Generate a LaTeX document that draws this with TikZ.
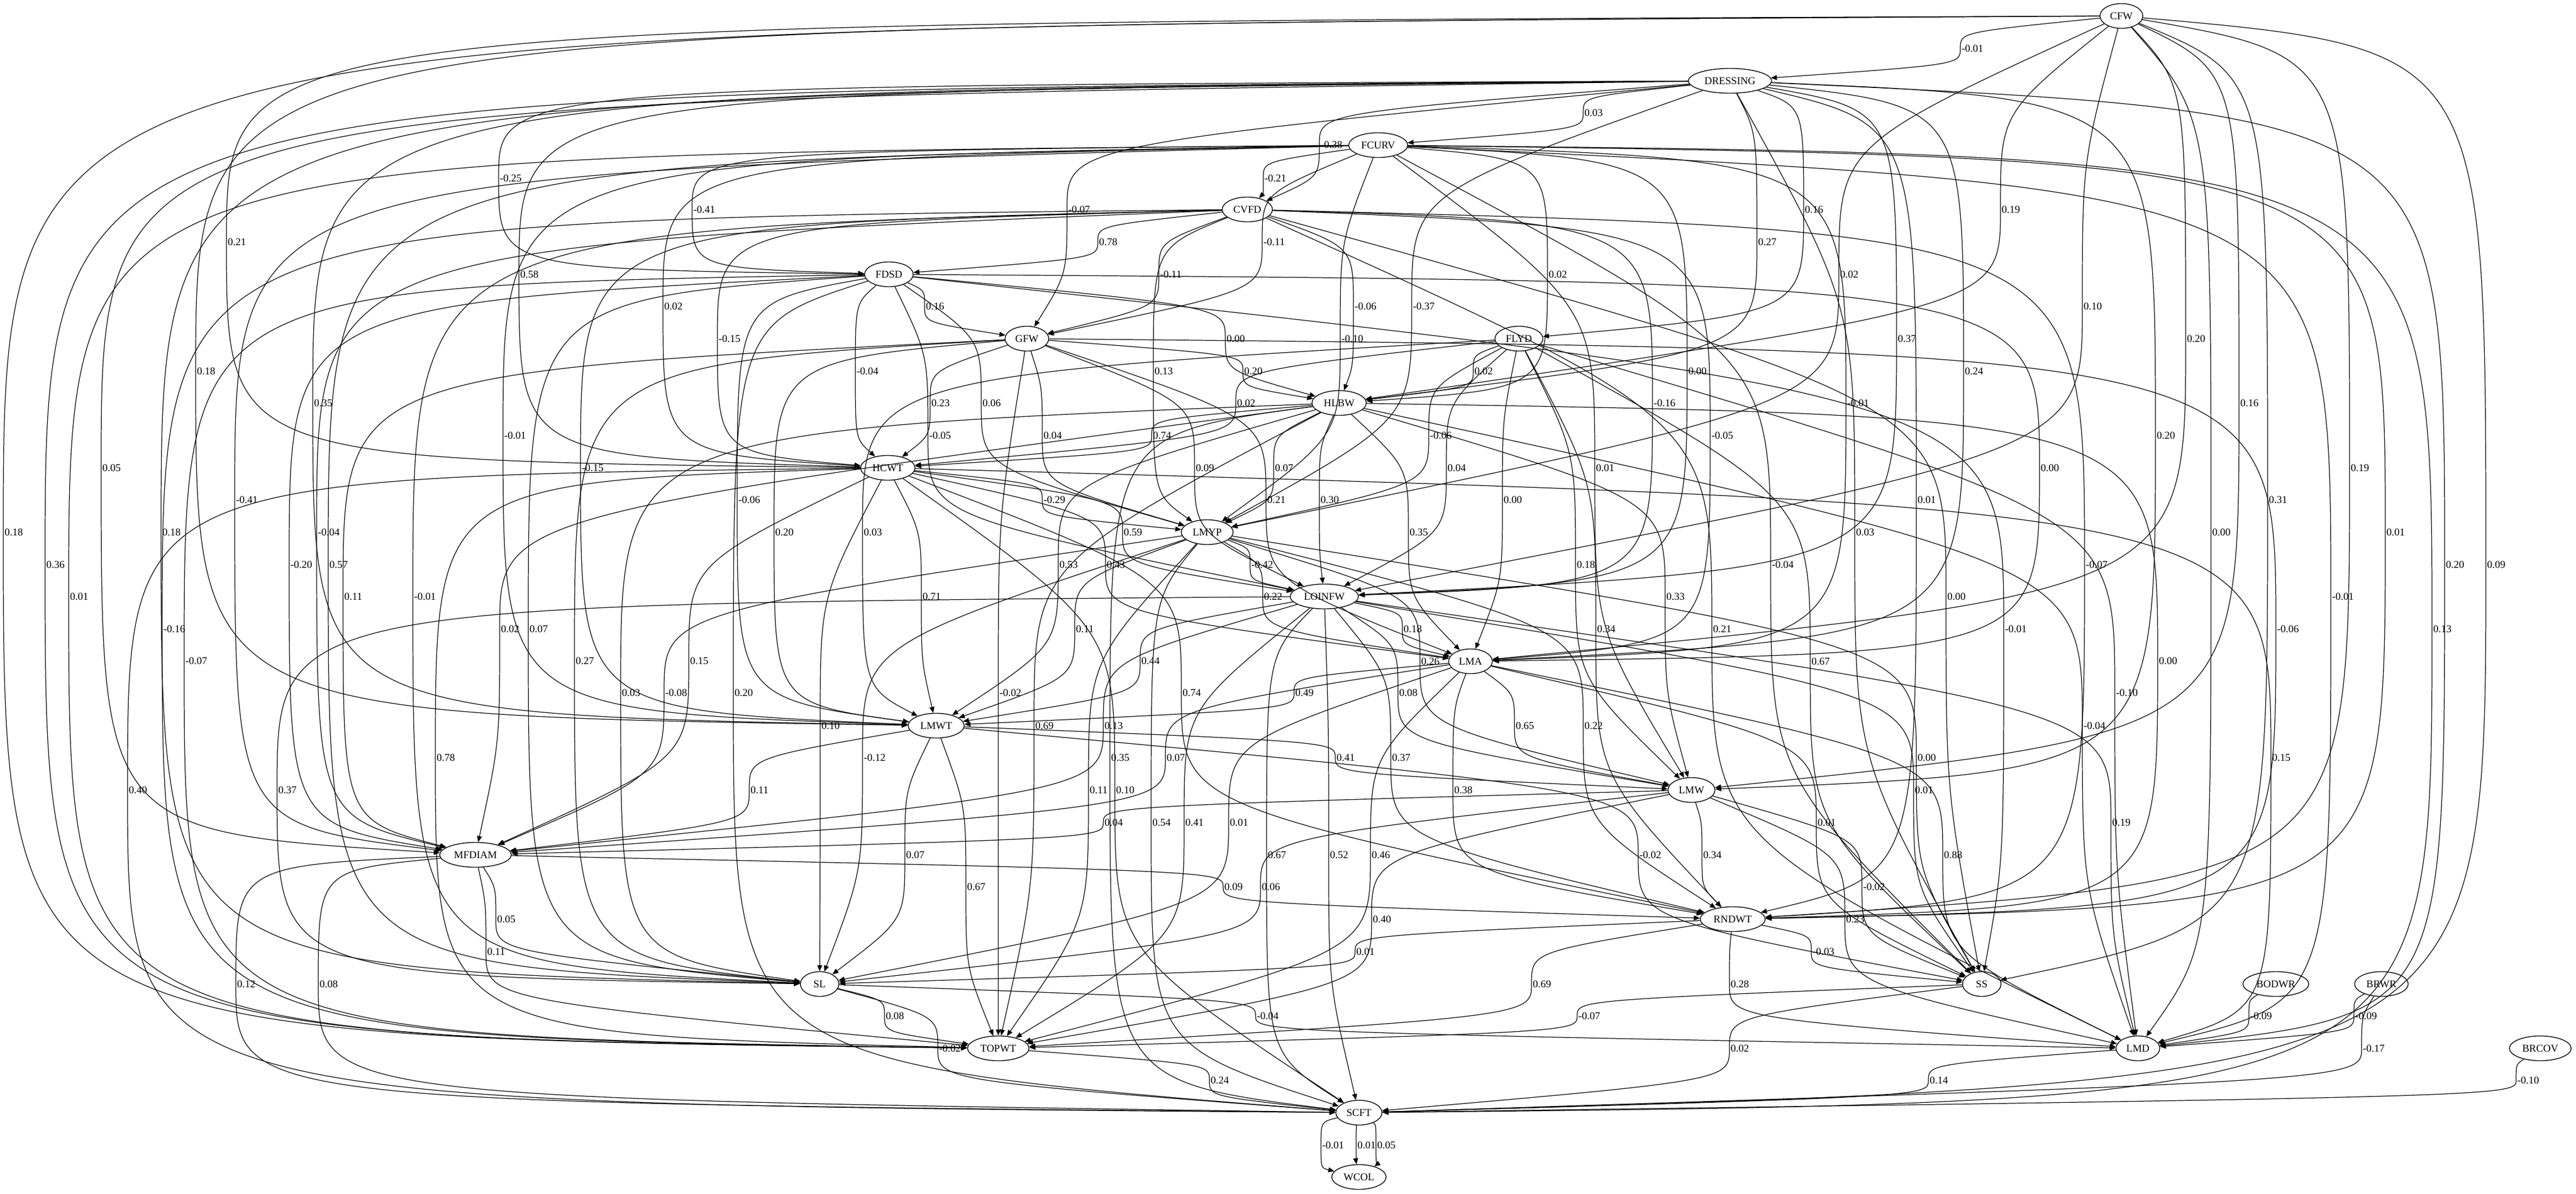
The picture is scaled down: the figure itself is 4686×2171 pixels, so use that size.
\documentclass[tikz,border=0pt]{standalone}
\usepackage{fontspec}
\setmainfont{Liberation Serif}
\usetikzlibrary{calc,shapes.geometric,arrows.meta}
\begin{document}
\begin{tikzpicture}[x=0.01cm,y=-0.01cm,
  var/.style={ellipse,draw,line width=0.4pt,inner xsep=0.07cm,inner ysep=0pt,minimum height=0.45cm,minimum width=0.7cm,font=\fontsize{5.4}{6}\selectfont},
  link/.style={line width=0.35pt,-{Triangle[length=1.1mm,width=0.9mm]}},
  lab/.style={anchor=west,inner sep=0.5pt,font=\fontsize{5.4}{6}\selectfont}]
\useasboundingbox (0,0) rectangle (4686,2171);
\node[var] (CFW) at (3859,29) {CFW};
\node[var] (DRESSING) at (3147,147) {DRESSING};
\node[var] (FCURV) at (2507,264) {FCURV};
\node[var] (CVFD) at (2269,381) {CVFD};
\node[var] (FDSD) at (1617,499) {FDSD};
\node[var] (GFW) at (1868,616) {GFW};
\node[var] (FLYD) at (2763,616) {FLYD};
\node[var] (HLBW) at (2436,733) {HLBW};
\node[var] (HCWT) at (1615,851) {HCWT};
\node[var] (LMYP) at (2196,968) {LMYP};
\node[var] (LOINFW) at (2409,1085) {LOINFW};
\node[var] (LMA) at (2675,1203) {LMA};
\node[var] (LMWT) at (1703,1320) {LMWT};
\node[var] (LMW) at (3077,1437) {LMW};
\node[var] (MFDIAM) at (865,1555) {MFDIAM};
\node[var] (RNDWT) at (3152,1672) {RNDWT};
\node[var] (SL) at (1491,1790) {SL};
\node[var] (SS) at (3605,1790) {SS};
\node[var] (BODWR) at (4140,1790) {BODWR};
\node[var] (BRWR) at (4332,1790) {BRWR};
\node[var] (TOPWT) at (1816,1907) {TOPWT};
\node[var] (LMD) at (3889,1907) {LMD};
\node[var] (BRCOV) at (4621,1907) {BRCOV};
\node[var] (SCFT) at (2472,2024) {SCFT};
\node[var] (WCOL) at (2472,2141) {WCOL};
\foreach \sr/\tg/\lx/\ly/\w in {
CFW/DRESSING/3585/88/-0.01, DRESSING/FCURV/2899/205/0.03, DRESSING/CVFD/2419/263/-0.38,
FCURV/CVFD/2317/324/-0.21, DRESSING/FDSD/926/324/-0.25, DRESSING/GFW/1960/381/-0.07,
FCURV/FDSD/1278/381/-0.41, DRESSING/FLYD/3300/381/0.16, CFW/HLBW/3658/381/0.19,
CVFD/FDSD/2016/440/0.78, FCURV/GFW/2315/440/-0.11, DRESSING/HLBW/3215/440/0.27,
CFW/HCWT/431/440/0.21, DRESSING/HCWT/963/499/0.58, CVFD/GFW/2127/499/-0.11,
FCURV/HLBW/2834/499/0.02, CFW/LMYP/3364/499/0.02, FCURV/HCWT/1225/557/0.02,
FDSD/GFW/1701/557/0.16, CVFD/HLBW/2481/557/-0.06, DRESSING/LMYP/2587/557/-0.37,
CFW/LOINFW/3807/557/0.10, CVFD/HCWT/1324/616/-0.15, FDSD/HLBW/2248/616/0.00,
FCURV/LMYP/2457/616/-0.10, DRESSING/LOINFW/3469/616/0.37, CFW/LMA/3995/616/0.20,
CFW/LMWT/375/675/0.18, FDSD/HCWT/1575/675/-0.04, CVFD/LMYP/2117/675/0.13,
GFW/HLBW/2280/675/0.20, FLYD/HLBW/2699/675/0.02, FCURV/LOINFW/3088/675/0.00,
DRESSING/LMA/3591/675/0.24, DRESSING/LMWT/588/733/0.35, GFW/HCWT/1711/733/0.23,
FDSD/LMYP/1804/733/0.06, FLYD/HCWT/2267/733/0.02, CVFD/LOINFW/3025/733/-0.16,
FCURV/LMA/3377/733/-0.01, CFW/LMW/4092/733/0.16, FCURV/LMWT/934/792/-0.01,
FDSD/LOINFW/1707/792/-0.05, GFW/LMYP/1915/792/0.04, HLBW/HCWT/2114/792/0.74,
FLYD/LMYP/2618/792/-0.06, CVFD/LMA/3130/792/-0.05, DRESSING/LMW/3940/792/0.20,
DRESSING/MFDIAM/203/851/0.05, CVFD/LMWT/1075/851/-0.15, GFW/LOINFW/2192/851/0.09,
HLBW/LMYP/2336/851/0.07, FLYD/LOINFW/2650/851/0.04, FCURV/LMW/2920/851/0.01,
FDSD/LMA/3729/851/0.00, CFW/RNDWT/4293/851/0.19, FCURV/MFDIAM/446/909/-0.41,
FDSD/LMWT/1360/909/-0.06, HCWT/LMYP/1915/909/-0.29, GFW/LMA/2322/909/0.21,
HLBW/LOINFW/2419/909/0.30, FLYD/LMA/2752/909/0.00, DRESSING/RNDWT/3505/909/0.01,
CFW/SS/4144/909/0.31, CFW/TOPWT/25/968/0.18, DRESSING/SL/312/968/0.18,
CVFD/MFDIAM/595/968/-0.04, GFW/LMWT/1427/968/0.20, FLYD/LMWT/1588/968/0.03,
HCWT/LOINFW/2061/968/0.59, HLBW/LMA/2581/968/0.35, DRESSING/SS/3393/968/0.03,
CFW/LMD/4041/968/0.00, FCURV/RNDWT/4358/968/0.01, DRESSING/TOPWT/101/1027/0.36,
FDSD/MFDIAM/545/1027/-0.20, FCURV/SL/616/1027/0.57, HLBW/LMWT/1944/1027/0.53,
HCWT/LMA/2030/1027/0.43, LMYP/LOINFW/2293/1027/-0.42, FLYD/LMW/2885/1027/0.18,
FCURV/SS/3240/1027/-0.04, CVFD/RNDWT/3811/1027/-0.07, DRESSING/LMD/4466/1027/0.20,
CFW/SCFT/4541/1027/0.09, FCURV/TOPWT/144/1085/0.01, GFW/MFDIAM/643/1085/0.11,
CVFD/SL/770/1085/-0.01, HCWT/LMWT/1695/1085/0.71, LMYP/LMA/2316/1085/0.22,
HLBW/LMW/3048/1085/0.33, CVFD/SS/3559/1085/0.00, FCURV/LMD/4259/1085/-0.01,
CVFD/TOPWT/314/1144/-0.16, HLBW/MFDIAM/928/1144/0.02, FDSD/SL/980/1144/0.07,
LMYP/LMWT/1974/1144/0.11, LOINFW/LMA/2570/1144/0.18, FLYD/RNDWT/2922/1144/0.34,
CVFD/LMD/3133/1144/0.21, FDSD/SS/3664/1144/-0.01, GFW/RNDWT/4159/1144/-0.06,
FCURV/SCFT/4443/1144/0.13, FDSD/TOPWT/354/1202/-0.07, GFW/SL/1064/1202/0.27,
HCWT/MFDIAM/1272/1202/0.15, LOINFW/LMWT/2093/1202/0.44, LMYP/LMW/2602/1203/0.26,
FLYD/SS/3312/1203/0.67, HLBW/RNDWT/3944/1202/0.00, HLBW/SL/1148/1260/0.03,
LMYP/MFDIAM/1227/1260/-0.08, FDSD/SCFT/1353/1260/0.20, GFW/TOPWT/1835/1260/-0.02,
HCWT/RNDWT/2168/1260/0.74, LMA/LMWT/2373/1260/0.49, LOINFW/LMW/2562/1260/0.08,
FLYD/LMD/3866/1260/-0.10, HCWT/SL/1511/1320/0.10, HLBW/TOPWT/1900/1320/0.69,
LOINFW/MFDIAM/2026/1320/0.13, LMA/LMW/2774/1320/0.65, LMYP/RNDWT/2899/1320/0.22,
HLBW/LMD/3807/1320/-0.04, HCWT/TOPWT/811/1378/0.78, LMYP/SL/1588/1378/-0.12,
HLBW/SCFT/2038/1378/0.35, LMA/MFDIAM/2139/1378/0.07, LMWT/LMW/2448/1378/0.41,
LOINFW/RNDWT/2549/1378/0.37, LMYP/SS/3505/1378/0.00, HCWT/LMD/4150/1378/0.15,
HCWT/SCFT/251/1437/0.40, LOINFW/SL/523/1437/0.37, LMWT/MFDIAM/1382/1437/0.11,
LMYP/TOPWT/1999/1437/0.11, HCWT/SCFT/2047/1437/0.10, LMA/RNDWT/2662/1437/0.38,
LOINFW/SS/3500/1437/0.01, LMW/MFDIAM/2026/1496/0.04, LMYP/SCFT/2113/1496/0.54,
LOINFW/TOPWT/2173/1496/0.41, LMA/SL/2254/1496/0.01, LMA/SS/3323/1496/0.01,
LOINFW/LMD/3859/1496/0.19, LMWT/SL/1665/1555/0.07, LOINFW/SCFT/2323/1555/0.67,
LOINFW/SCFT/2436/1555/0.52, LMA/TOPWT/2512/1555/0.46, LMWT/SS/2999/1555/-0.02,
LMW/RNDWT/3115/1555/0.34, LMA/LMD/3553/1555/0.88, LMWT/TOPWT/1776/1613/0.67,
MFDIAM/RNDWT/2244/1613/0.09, LMW/SL/2312/1613/0.06, LMW/SS/3406/1613/-0.02,
MFDIAM/SL/921/1672/0.05, LMW/TOPWT/2514/1672/0.40, LMW/LMD/3375/1672/0.23,
MFDIAM/TOPWT/903/1731/0.11, RNDWT/SL/2484/1731/0.01, RNDWT/SS/3314/1731/-0.03,
MFDIAM/SCFT/448/1790/0.12, MFDIAM/SCFT/598/1790/0.08, RNDWT/TOPWT/2805/1790/0.69,
RNDWT/LMD/3165/1790/0.28, SL/TOPWT/1628/1848/0.08, SL/LMD/2303/1848/-0.04,
SS/TOPWT/2888/1848/-0.07, BODWR/LMD/4110/1848/-0.09, BRWR/LMD/4301/1848/-0.09,
SL/SCFT/1725/1907/-0.02, SS/SCFT/3165/1907/0.02, BRWR/SCFT/4315/1907/-0.17,
TOPWT/SCFT/2219/1965/0.24, LMD/SCFT/3527/1965/0.14, BRCOV/SCFT/4596/1965/-0.10,
SCFT/WCOL/2422/2083/-0.01, SCFT/WCOL/2486/2083/0.01, SCFT/WCOL/2522/2083/0.05}
  \draw[link] let \p1=(\sr), \p2=(\tg), \p3=(\lx-19,\ly),
    \n1={12.5/(25+max(0,min(\x1,\x2)-\x3,\x3-max(\x1,\x2)))} in
    (\sr) .. controls (\x3,{\y1+\n1*(\y3-\y1)}) .. (\p3) node[lab] {\w}
    .. controls (\x3,{\y2-\n1*(\y2-\y3)}) .. (\tg);
\end{tikzpicture}
\end{document}
